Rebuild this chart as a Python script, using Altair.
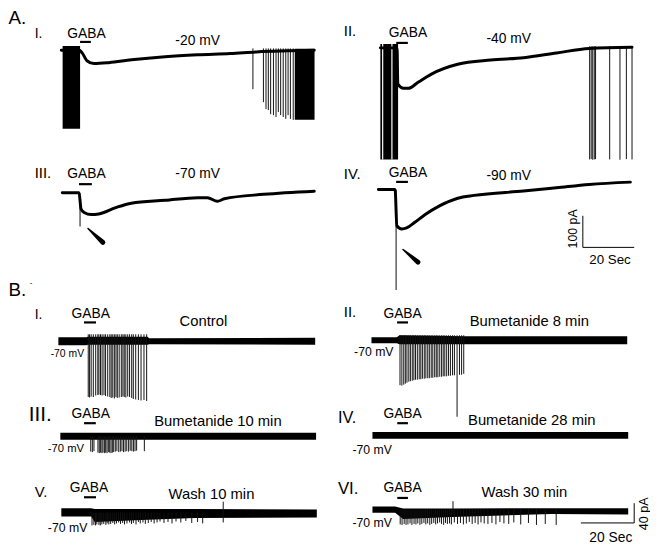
import altair as alt
import pandas as pd

FONT = "Liberation Sans"

# ------------------------------------------------------------------
# DATA (time in s from trace start, current in pA)
# ------------------------------------------------------------------
# Panel A: slow GABA-evoked current at four holding potentials
A1_t = [0, 7.0, 8.1, 10.0, 12.7, 18.5, 27.3, 40.4, 53.0, 65.8, 76.0, 98.5]
A1_i = [0, 0, -8, -33, -42, -39, -30, -20, -14, -10, -5, 0]
A2_t = [0, 6.5, 6.8, 9.0, 10.9, 14.7, 19.9, 30.1, 43.0, 55.8, 68.6, 81.4, 98.0]
A2_i = [0, 0, -115, -128, -128, -109, -83, -52, -38.5, -31, -16, -2, 2]
A3_t = [0, 6.5, 7.3, 8.5, 11.2, 14.2, 20.8, 26.9, 40.0, 52.7, 56.5, 60.4, 63.1, 78.5, 98.1]
A3_i = [0, 0, -52, -62.5, -69, -67, -47, -33, -24, -15.6, -15.6, -27, -19, -5, 5]
A4_t = [0, 6.5, 7.2, 9.1, 11.0, 14.2, 18.1, 23.8, 30.9, 37.3, 56.5, 69.3, 82.1, 98.1]
A4_i = [0, 0, -115, -125, -122, -104, -80, -52, -28, -19, -5.3, 5, 15.6, 23]

# dense firing shown as solid blocks
BURST_panel = ["A.I", "A.II", "A.I"]
BURST_t0 = [0.5, 0.0, 90.9]
BURST_t1 = [7.3, 6.9, 98.6]
BURST_lo = [-248, -353, -220]
BURST_hi = [14, 12.5, 5]
A2_gap_t = [0.9, 4.5]

# individual action currents in panel A
A1_spk_t = [74.6, 78.7, 79.7, 80.6, 81.5, 82.6, 83.6, 84.5, 85.4, 86.4, 87.4, 88.3, 89.2, 90.3]
A1_spk_i = [-123, -164, -186, -189, -202, -205, -211, -195, -205, -211, -217, -205, -217, -220]
A2_spk_t = [81.5, 82.1, 82.7, 83.3, 83.8, 89.3, 93.3, 95.8, 98.0]
A2_spk_i = [-353, -352, -354, -353, -352, -353, -354, -352, -353]
# fast transient at GABA onset (arrow)
TR_panel = ["A.III", "A.IV"]
TR_t = [6.9, 6.9]
TR_i = [-107, -318]
# arrows: tip and base (t, I)
ARROW_panel = ["A.III", "A.IV"]
ARROW_tip_t = [10.0, 9.6]
ARROW_tip_i = [-113, -190]
ARROW_base_t = [15.8, 15.4]
ARROW_base_i = [-157, -230]

# Panel B: recordings at -70 mV with noise envelope (lo / hi around baseline)
B1_band_t = [0, 10.5, 11.0, 33.5, 34.0, 96.3]
B1_band_lo = [-8, -8, -7, -7, -6, -7]
B1_band_hi = [8, 8, 9, 9, 6, 7]
B2_band_t = [0, 9.5, 10.5, 35.0, 95.9]
B2_band_lo = [-6, -6, -8, -8, -8]
B2_band_hi = [6, 6, 10, 8, 8]
B3_band_t = [0, 95.9]
B3_band_lo = [-7, -7]
B3_band_hi = [7, 7]
B4_band_t = [0, 95.9]
B4_band_lo = [-7, -7]
B4_band_hi = [7, 7]
B5_band_t = [0, 11.2, 12.5, 30.0, 50.0, 95.8]
B5_band_lo = [-8, -8, -19, -15, -11, -10]
B5_band_hi = [9, 9, 7, 7, 7, 6]
B6_band_t = [0, 8.5, 11.5, 30.0, 67.0, 95.9]
B6_band_lo = [-6.5, -6.5, -19, -15, -9, -10]
B6_band_hi = [6.5, 6.5, 2, 2, 3, 3]

B1_spk_t = [11.2, 11.7, 12.3, 13.1, 14.0, 14.8, 15.2, 15.8, 16.4, 17.1, 17.7, 18.5, 19.3, 19.8, 20.4, 21.0,
            21.6, 22.1, 22.8, 23.6, 24.2, 24.7, 25.3, 26.0, 26.7, 27.5, 28.1, 29.0, 30.0, 31.0, 32.1, 33.1]
B1_spk_i = [-113, -114, -112, -113, -110, -109, -108, -109, -110, -109, -111, -112, -113, -115, -114, -116,
            -113, -115, -114, -113, -112, -113, -114, -112, -113, -115, -117, -118, -119, -120, -119, -121]
B2_spk_t = [10.7, 11.4, 12.1, 12.7, 13.3, 14.0, 14.6, 15.3, 15.9, 16.5, 17.2, 17.9, 18.5, 19.1, 19.8, 20.4,
            21.1, 21.7, 22.4, 23.0, 23.7, 24.3, 24.9, 25.6, 26.3, 26.9, 27.5, 28.2, 28.9, 29.6, 30.4, 31.1,
            32.1, 33.0, 33.8, 34.6]
B2_spk_i = [-91, -92, -90, -88, -86, -84, -83, -82, -81, -80, -80, -79, -79, -78, -78, -77,
            -77, -77, -76, -76, -75, -75, -75, -74, -74, -73, -73, -73, -72, -72, -71, -71,
            -155, -70, -70, -68]
B3_spk_t = [11.4, 12.0, 12.6, 14.1, 14.6, 15.1, 15.6, 16.0, 16.6, 17.0, 17.5, 18.0, 18.5, 19.0, 19.5, 20.0,
            20.6, 21.2, 21.9, 22.5, 23.1, 23.7, 24.3, 24.9, 25.6, 26.2, 26.8, 27.4, 28.0, 28.6, 31.5]
B3_spk_i = [-31, -32, -30, -33, -34, -33, -34, -33, -34, -33, -34, -32, -33, -34, -33, -32,
            -31, -30, -32, -31, -30, -32, -31, -30, -31, -29, -30, -31, -30, -29, -30]
B5_spk_t = [11.5, 12.2, 12.8, 13.3, 14.1, 14.6, 15.2, 15.9, 16.7, 17.2, 17.8, 18.5, 19.3, 20.0, 20.7, 21.5,
            22.2, 23.0, 23.7, 24.6, 25.6, 26.3, 27.0, 28.0, 28.9, 29.6, 30.6, 31.5, 32.6, 33.7, 34.8, 35.9,
            37.0, 38.5, 40.0, 41.5, 43.0, 44.8, 46.7, 48.9, 51.1, 53.0]
B5_spk_i = [-26, -25, -26, -24, -25, -26, -24, -23, -25, -22, -24, -23, -21, -24, -22, -20,
            -23, -21, -24, -22, -20, -23, -21, -24, -19, -22, -20, -23, -21, -19, -22, -20,
            -18, -21, -19, -22, -18, -20, -17, -21, -19, -22]
B6_spk_t = [10.4, 11.1, 11.9, 12.6, 13.3, 14.1, 14.8, 15.6, 16.3, 17.0, 17.8, 18.5, 19.3, 20.0, 20.7, 21.5,
            22.2, 23.0, 23.7, 24.4, 25.2, 25.9, 26.7, 27.4, 28.1, 28.9, 29.6, 30.7, 31.9, 33.0, 34.1, 35.2,
            36.3, 37.4, 38.5, 39.6, 40.7, 41.9, 43.3, 44.8, 46.3, 47.8, 49.3, 51.1, 53.0, 55.6, 58.5, 61.5,
            64.8, 68.9]
B6_spk_i = [-30, -31, -29, -31, -30, -28, -31, -29, -30, -28, -31, -29, -27, -30, -28, -31,
            -29, -27, -30, -28, -26, -29, -31, -27, -29, -28, -30, -26, -29, -27, -30, -28,
            -25, -29, -27, -30, -26, -28, -29, -27, -30, -25, -28, -29, -26, -30, -27, -31,
            -29, -31]
# bidirectional single events
BX_panel = ["B.V", "B.VI"]
BX_t = [60.7, 30.2]
BX_hi = [22, 17]
BX_lo = [-20, -6]
SPIKE_TOP = {"B.I": 14, "B.II": 10, "B.III": 0, "B.V": 0, "B.VI": 0}

# GABA application windows (s)
GABA_panel = ["A.I", "A.II", "A.III", "A.IV", "B.I", "B.II", "B.III", "B.IV", "B.V", "B.VI"]
GABA_t0 = [7.3, 6.2, 6.5, 6.9, 9.6, 9.6, 8.9, 9.3, 8.5, 9.3]
GABA_t1 = [11.5, 10.7, 11.5, 11.5, 14.1, 13.7, 13.3, 13.3, 13.0, 13.3]

# scale bars
SCALE_A = (20, 100)   # s, pA
SCALE_B = (20, 40)

# text
ROMAN = ["I.", "II.", "III.", "IV.", "I.", "II.", "III.", "IV.", "V.", "VI."]
HOLD = ["-20 mV", "-40 mV", "-70 mV", "-90 mV"]
COND = ["Control", "Bumetanide 8 min", "Bumetanide 10 min", "Bumetanide 28 min", "Wash 10 min", "Wash 30 min"]

# ------------------------------------------------------------------
# LAYOUT (page pixels)
# ------------------------------------------------------------------
POS = {"A.I": (62, 47.5), "A.II": (385, 45), "A.III": (63, 191.7), "A.IV": (383, 188.3),
       "B.I": (59, 342), "B.II": (376, 341), "B.III": (61, 438.3), "B.IV": (377, 437.3),
       "B.V": (62, 515.5), "B.VI": (377, 512.5)}
PXS = {"A": (2.6, 0.32), "B": (2.7, 0.5)}
GABA_Y = [39, 40, 183, 180.7, 323, 323, 425, 425, 500, 500.7]


def xy(panel, t, i):
    x0, y0 = POS[panel]
    sx, sy = PXS[panel[0]]
    return x0 + t * sx, y0 - i * sy


# ---- tables ----
rows = []
for p, ts, iv in [("A.I", A1_t, A1_i), ("A.II", A2_t, A2_i), ("A.III", A3_t, A3_i), ("A.IV", A4_t, A4_i)]:
    for k, (t, i) in enumerate(zip(ts, iv)):
        x, y = xy(p, t, i)
        rows.append({"p": p, "k": k, "x": x, "y": y})
slow_df = pd.DataFrame(rows)

rows = []
for p, t0, t1, lo, hi in zip(BURST_panel, BURST_t0, BURST_t1, BURST_lo, BURST_hi):
    x, y = xy(p, t0, hi)
    x2, y2 = xy(p, t1, lo)
    rows.append({"x": x, "x2": x2, "y": y, "y2": y2})
burst_df = pd.DataFrame(rows)

rows = []
for t in A2_gap_t:
    x, y = xy("A.II", t, BURST_hi[1])
    _, y2 = xy("A.II", t, BURST_lo[1])
    rows.append({"x": x, "y": y, "y2": y2})
gap_df = pd.DataFrame(rows)

rows = []
for p, ts, iv, top in [("A.I", A1_spk_t, A1_spk_i, 6), ("A.II", A2_spk_t, A2_spk_i, 5),
                       ("B.I", B1_spk_t, B1_spk_i, SPIKE_TOP["B.I"]),
                       ("B.II", B2_spk_t, B2_spk_i, SPIKE_TOP["B.II"]),
                       ("B.III", B3_spk_t, B3_spk_i, SPIKE_TOP["B.III"]),
                       ("B.V", B5_spk_t, B5_spk_i, SPIKE_TOP["B.V"]),
                       ("B.VI", B6_spk_t, B6_spk_i, SPIKE_TOP["B.VI"])]:
    for t, i in zip(ts, iv):
        x, y = xy(p, t, top)
        _, y2 = xy(p, t, i)
        rows.append({"x": x, "y": y, "y2": y2})
for p, t, hi, lo in zip(BX_panel, BX_t, BX_hi, BX_lo):
    x, y = xy(p, t, hi)
    _, y2 = xy(p, t, lo)
    rows.append({"x": x, "y": y, "y2": y2})
spk_df = pd.DataFrame(rows)

rows = []
for p, t, i in zip(TR_panel, TR_t, TR_i):
    x, y = xy(p, t, 0)
    _, y2 = xy(p, t, i)
    rows.append({"x": x, "y": y, "y2": y2})
tr_df = pd.DataFrame(rows)

rows = []
for n, (p, tt, ti, bt, bi) in enumerate(zip(ARROW_panel, ARROW_tip_t, ARROW_tip_i, ARROW_base_t, ARROW_base_i)):
    x, y = xy(p, tt, ti)
    rows.append({"id": n, "k": 0, "x": x, "y": y, "w": 1.5})
    x, y = xy(p, bt, bi)
    rows.append({"id": n, "k": 1, "x": x, "y": y, "w": 5.0})
arrow_df = pd.DataFrame(rows)

rows = []
for p, ts, lo, hi in [("B.I", B1_band_t, B1_band_lo, B1_band_hi), ("B.II", B2_band_t, B2_band_lo, B2_band_hi),
                      ("B.III", B3_band_t, B3_band_lo, B3_band_hi), ("B.IV", B4_band_t, B4_band_lo, B4_band_hi),
                      ("B.V", B5_band_t, B5_band_lo, B5_band_hi), ("B.VI", B6_band_t, B6_band_lo, B6_band_hi)]:
    for t, l, h in zip(ts, lo, hi):
        x, y = xy(p, t, h)
        _, y2 = xy(p, t, l)
        rows.append({"p": p, "x": x, "y": y, "y2": y2})
band_df = pd.DataFrame(rows)

rows = []
for p, t0, t1, gy in zip(GABA_panel, GABA_t0, GABA_t1, GABA_Y):
    x, _ = xy(p, t0, 0)
    x2, _ = xy(p, t1, 0)
    rows.append({"x": x, "x2": x2, "y": gy, "y2": gy})
gaba_df = pd.DataFrame(rows)

# scale bars: A corner at lower-left, B corner at lower-right
ax, ay = 590, 247
bx, by = 642, 526
sc_rows = [
    {"x": ax, "x2": ax, "y": ay - SCALE_A[1] * PXS["A"][1], "y2": ay},
    {"x": ax, "x2": ax + SCALE_A[0] * PXS["A"][0], "y": ay, "y2": ay},
    {"x": bx, "x2": bx, "y": by - SCALE_B[1] * PXS["B"][1], "y2": by},
    {"x": bx - SCALE_B[0] * PXS["B"][0], "x2": bx, "y": by, "y2": by},
]
scale_df = pd.DataFrame(sc_rows)

# texts
left_txt = pd.DataFrame({
    "text": ["A.", "B.", "-"] + ROMAN,
    "x": [8.5, 8.5, 30, 35, 348, 35, 348, 35, 348, 29, 342, 35, 342],
    "y": [21, 296, 285, 35, 33, 176.7, 177.7, 320, 317.5, 423, 425, 500, 497],
    "fs": [19, 19, 8, 14, 15, 15, 15, 14, 15, 21, 16.5, 15, 17],
})
center_txt = pd.DataFrame({
    "text": ["GABA"] * 10 + HOLD + COND + ["20 Sec", "20 Sec"],
    "x": [87.5, 413, 87.5, 413, 91.7, 407.5, 91.7, 407.5, 90, 407.5,
          200, 515, 200, 515,
          205.8, 535.8, 220.5, 538.3, 214, 530.8,
          617.5, 618.3],
    "y": [35, 34.3, 176.7, 176, 319, 318.3, 419.3, 419.3, 495, 494.3,
          41.7, 40, 176.7, 178.3,
          326.7, 326.7, 428.3, 426.7, 501.7, 500,
          264, 545],
    "fs": [14] * 10 + [14] * 4 + [15] * 6 + [13.5, 14],
})
right_txt = pd.DataFrame({
    "text": ["-70 mV"] * 6,
    "x": [85, 398.3, 85, 396.7, 88.3, 396.7],
    "y": [358.3, 357.3, 454, 456.7, 535, 530],
    "fs": [10.5, 12.4, 11.4, 12.4, 12.4, 12.4],
})
rot_txt = pd.DataFrame({
    "text": ["100 pA", "40 pA"],
    "x": [584.5, 656],
    "y": [228.3, 516.7],
    "fs": [12.5, 12.7],
})

# ------------------------------------------------------------------
# CHART
# ------------------------------------------------------------------
SX = alt.Scale(domain=[8, 658], nice=False, zero=False)
SY = alt.Scale(domain=[8, 547], nice=False, zero=False, reverse=True)


def X(f="x"):
    return alt.X(f"{f}:Q", scale=SX, axis=None)


def Y(f="y"):
    return alt.Y(f"{f}:Q", scale=SY, axis=None)


bands = alt.Chart(band_df).mark_area(color="black", opacity=1, interpolate="linear").encode(
    x=X(), y=Y(), y2="y2:Q", detail="p:N")
bursts = alt.Chart(burst_df).mark_rect(color="black").encode(x=X(), x2="x2:Q", y=Y(), y2="y2:Q")
gaps = alt.Chart(gap_df).mark_rule(color="white", strokeWidth=1.2).encode(x=X(), y=Y(), y2="y2:Q")
spikes = alt.Chart(spk_df).mark_rule(color="#111111", strokeWidth=1).encode(x=X(), y=Y(), y2="y2:Q")
trans = alt.Chart(tr_df).mark_rule(color="#333333", strokeWidth=1.2).encode(x=X(), y=Y(), y2="y2:Q")
slow = alt.Chart(slow_df).mark_line(color="black", strokeWidth=3, strokeJoin="round", strokeCap="round",
                                    interpolate="monotone").encode(
    x=X(), y=Y(), detail="p:N", order="k:Q")
arrows = alt.Chart(arrow_df).mark_trail(color="black").encode(
    x=X(), y=Y(), size=alt.Size("w:Q", scale=None, legend=None), detail="id:N", order="k:Q")
gaba = alt.Chart(gaba_df).mark_rule(color="black", strokeWidth=2.2).encode(
    x=X(), x2="x2:Q", y=Y(), y2="y2:Q")
scales = alt.Chart(scale_df).mark_rule(color="black", strokeWidth=1).encode(
    x=X(), x2="x2:Q", y=Y(), y2="y2:Q")


def txt(df, align, angle=0):
    kw = dict(align=align, baseline="alphabetic", font=FONT, color="black")
    if angle:
        kw["angle"] = angle
    return alt.Chart(df).mark_text(**kw).encode(
        x=X(), y=Y(), text="text:N", size=alt.Size("fs:Q", scale=None, legend=None))


chart = alt.layer(
    bands, bursts, gaps, spikes, trans, slow, arrows, gaba, scales,
    txt(left_txt, "left"), txt(center_txt, "center"), txt(right_txt, "right"),
    txt(rot_txt, "center", 270),
).properties(
    width=650, height=539, padding=0,
    autosize=alt.AutoSizeParams(type="none"),
).configure_view(stroke=None)

chart.save("out.html", embed_options={"renderer": "svg", "actions": False})
